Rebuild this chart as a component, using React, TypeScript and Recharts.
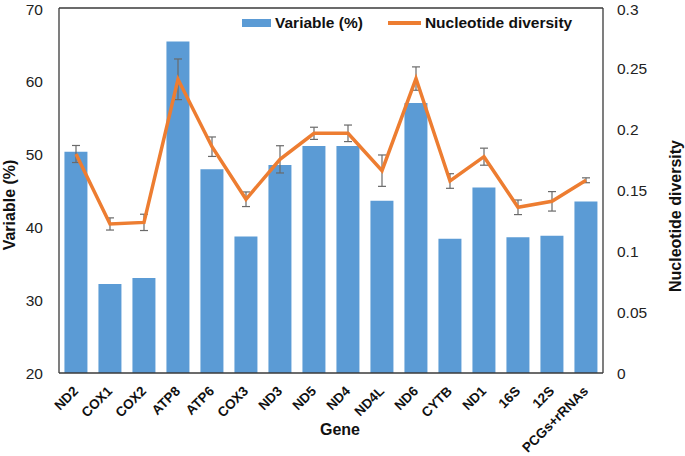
import React from "react";
import {
  ComposedChart,
  Bar,
  Line,
  XAxis,
  YAxis,
  ErrorBar,
  ReferenceLine,
} from "recharts";

const genes = [
  "ND2", "COX1", "COX2", "ATP8", "ATP6", "COX3", "ND3", "ND5",
  "ND4", "ND4L", "ND6", "CYTB", "ND1", "16S", "12S", "PCGs+rRNAs",
];
const variable = [
  50.3, 32.2, 33.0, 65.4, 47.9, 38.7, 48.5, 51.1,
  51.1, 43.6, 57.0, 38.4, 45.4, 38.6, 38.8, 43.5,
];
const diversity = [
  0.18, 0.1225, 0.1238, 0.2414, 0.186, 0.1428, 0.1756, 0.197,
  0.197, 0.1663, 0.242, 0.1578, 0.1778, 0.1362, 0.1411, 0.1584,
];
const diversityErr = [
  0.007, 0.005, 0.0067, 0.0167, 0.008, 0.006, 0.0112, 0.005,
  0.0068, 0.0129, 0.0096, 0.006, 0.007, 0.006, 0.008, 0.002,
];
const leftTicks = [20, 30, 40, 50, 60, 70];
const rightTicks = [0, 0.05, 0.1, 0.15, 0.2, 0.25, 0.3];

const data = genes.map((gene, i) => ({
  gene,
  variable: variable[i],
  diversity: diversity[i],
  err: diversityErr[i],
}));

const FONT = "'Liberation Sans', Arial, sans-serif";
const BLUE = "#5B9BD5";
const ORANGE = "#ED7D31";
const FRAME = "#3a3a3a";

function GeneTick(props: any) {
  const { x, y, payload } = props;
  return (
    <text
      x={x + 3}
      y={y + 11}
      transform={`rotate(-45 ${x + 3} ${y + 11})`}
      textAnchor="end"
      fontFamily={FONT}
      fontWeight="bold"
      fontSize={13.5}
      fill="#111"
    >
      {payload.value}
    </text>
  );
}

// axis title at a fixed spot; prop names kept apart from Label's own props
function Title(props: any) {
  const { titleX, titleY, titleRot, titleText } = props;
  return (
    <text
      x={titleX}
      y={titleY}
      transform={titleRot ? `rotate(${titleRot} ${titleX} ${titleY})` : undefined}
      textAnchor="middle"
      dominantBaseline="central"
      fontFamily={FONT}
      fontWeight="bold"
      fontSize={16}
      fill="#111"
    >
      {titleText}
    </text>
  );
}

export default function App() {
  const tickStyle = { fontFamily: FONT, fontSize: 15.5, fill: "#222" };
  return (
    <div style={{ position: "absolute", left: 0, top: 0, width: 685, height: 456, background: "#fff" }}>
      <ComposedChart
        width={685}
        height={456}
        data={data}
        margin={{ top: 8, right: 0, bottom: 0, left: 0 }}
        barCategoryGap="16%"
      >
        <XAxis
          dataKey="gene"
          height={83}
          interval={0}
          tickLine={false}
          axisLine={{ stroke: FRAME, strokeWidth: 1.3 }}
          tick={<GeneTick />}
          label={<Title titleX={340} titleY={429} titleText="Gene" />}
        />
        <YAxis
          yAxisId="left"
          width={59}
          domain={[20, 70]}
          ticks={leftTicks}
          tickLine={false}
          tickMargin={10}
          axisLine={{ stroke: FRAME, strokeWidth: 1.3 }}
          tick={tickStyle}
          label={<Title titleX={9} titleY={205} titleRot={-90} titleText="Variable (%)" />}
        />
        <YAxis
          yAxisId="right"
          orientation="right"
          width={82}
          domain={[0, 0.3]}
          ticks={rightTicks}
          tickLine={false}
          tickMargin={8}
          axisLine={{ stroke: FRAME, strokeWidth: 1.3 }}
          tick={{ ...tickStyle, textAnchor: "start" }}
          label={<Title titleX={675} titleY={216} titleRot={-90} titleText="Nucleotide diversity" />}
        />
        <ReferenceLine yAxisId="left" y={70} stroke={FRAME} strokeWidth={1.3} />
        <Bar
          yAxisId="left"
          dataKey="variable"
          fill={BLUE}
          isAnimationActive={false}
        />
        <Line
          yAxisId="right"
          dataKey="diversity"
          stroke={ORANGE}
          strokeWidth={3.5}
          dot={false}
          activeDot={false}
          isAnimationActive={false}
        >
          <ErrorBar
            dataKey="err"
            width={4}
            stroke="#6a6a6a"
            strokeWidth={1.2}
            isAnimationActive={false}
          />
        </Line>
      </ComposedChart>
      <div
        style={{
          position: "absolute",
          top: 14,
          left: 242,
          display: "flex",
          alignItems: "center",
          fontFamily: FONT,
          fontWeight: "bold",
          fontSize: 15.5,
          color: "#111",
          whiteSpace: "nowrap",
        }}
      >
        <span style={{ display: "inline-block", width: 29, height: 8, background: BLUE, marginRight: 4 }} />
        <span>Variable (%)</span>
        <span style={{ display: "inline-block", width: 33, height: 3.5, background: ORANGE, marginLeft: 25, marginRight: 4 }} />
        <span>Nucleotide diversity</span>
      </div>
    </div>
  );
}
